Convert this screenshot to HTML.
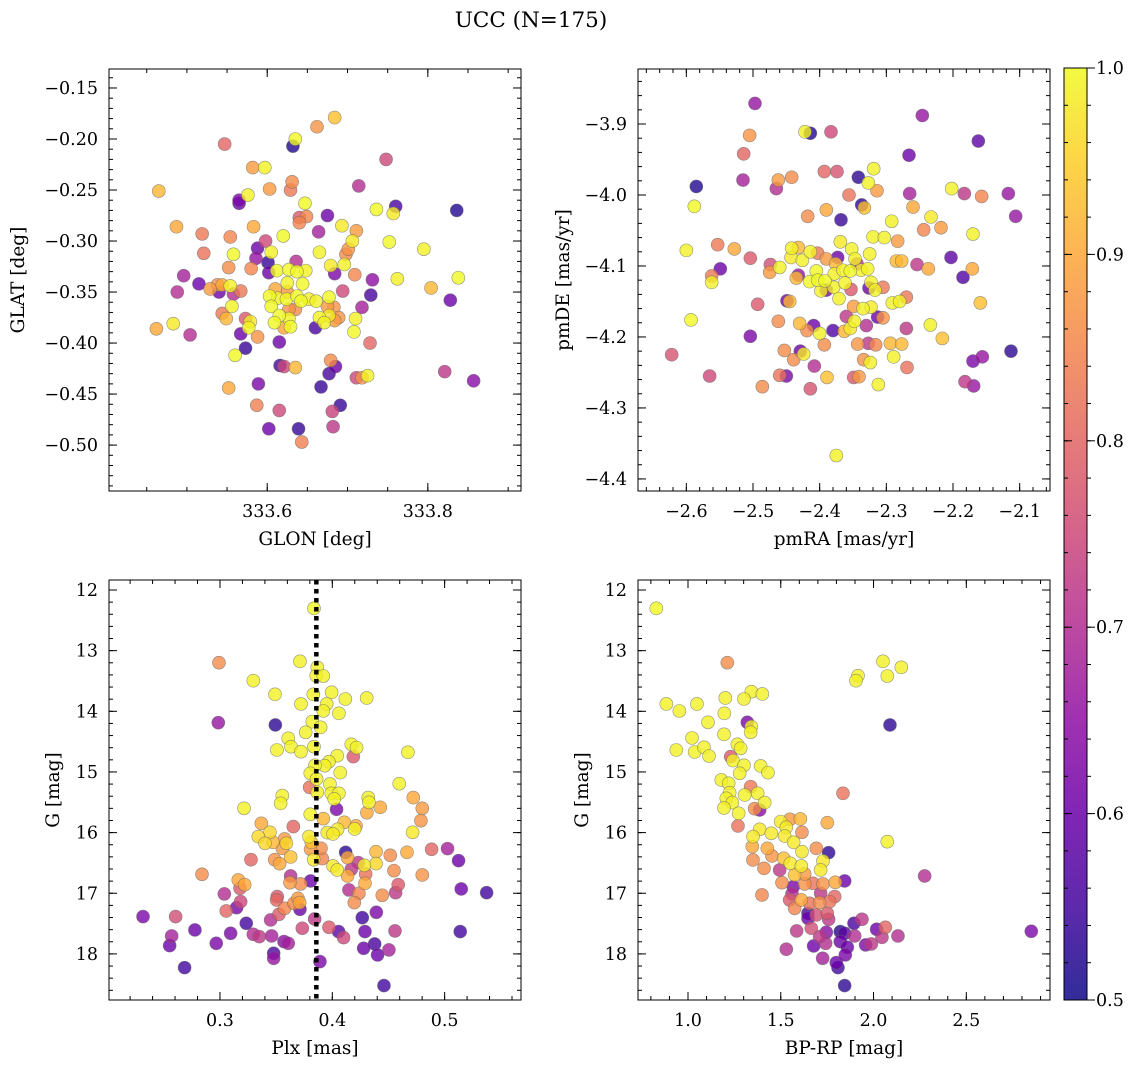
<!DOCTYPE html>
<html><head><meta charset="utf-8">
<style>
html,body{margin:0;padding:0;background:#fff;}
svg{display:block;font-family:"DejaVu Serif","Liberation Serif",serif;}
</style></head>
<body>
<svg id="fig" width="1136" height="1068" viewBox="0 0 1136 1068" xmlns="http://www.w3.org/2000/svg">
<defs>
<linearGradient id="plasma" x1="0" y1="1" x2="0" y2="0">
<stop offset="0" stop-color="#0d0887"/><stop offset="0.1" stop-color="#41049d"/><stop offset="0.2" stop-color="#6a00a8"/><stop offset="0.3" stop-color="#8f0da4"/><stop offset="0.4" stop-color="#b12a90"/><stop offset="0.5" stop-color="#cc4778"/><stop offset="0.6" stop-color="#e16462"/><stop offset="0.7" stop-color="#f2844b"/><stop offset="0.8" stop-color="#fca636"/><stop offset="0.9" stop-color="#fcce25"/><stop offset="1" stop-color="#f0f921"/>
</linearGradient>
</defs>
<text x="531" y="27" font-size="21.5" text-anchor="middle">UCC (N=175)</text>
</svg>
<script>
// ---- Panel 1: GLON / GLAT ----
const p1x=[333.684,333.662,333.635,333.632,333.547,333.748,333.582,333.597,333.631,333.629,333.603,333.465,333.714,333.565,333.565,333.576,333.647,333.736,333.760,333.757,333.836,333.640,333.649,333.640,333.675,333.487,333.583,333.693,333.711,333.664,333.519,333.554,333.620,333.598,333.706,333.752,333.795,333.521,333.558,333.588,333.605,333.586,333.601,333.665,333.701,333.698,333.636,333.696,333.679,333.552,333.580,333.602,333.612,333.627,333.637,333.648,333.684,333.709,333.731,333.762,333.838,333.496,333.515,333.488,333.540,333.529,333.538,333.544,333.554,333.558,333.567,333.625,333.644,333.610,333.625,333.694,333.729,333.804,333.828,333.603,333.613,333.624,333.637,333.642,333.652,333.661,333.677,333.605,333.627,333.635,333.675,333.683,333.718,333.556,333.544,333.549,333.615,333.609,333.627,333.621,333.629,333.665,333.671,333.677,333.689,333.684,333.660,333.710,333.573,333.579,333.577,333.567,333.588,333.462,333.483,333.504,333.708,333.728,333.615,333.573,333.560,333.616,333.621,333.635,333.679,333.685,333.677,333.711,333.718,333.725,333.589,333.667,333.552,333.821,333.857,333.587,333.615,333.691,333.681,333.602,333.639,333.682,333.643];
const p1y=[-0.179,-0.188,-0.200,-0.207,-0.205,-0.220,-0.228,-0.228,-0.242,-0.250,-0.249,-0.251,-0.246,-0.260,-0.263,-0.255,-0.263,-0.269,-0.266,-0.273,-0.270,-0.277,-0.276,-0.282,-0.275,-0.286,-0.286,-0.285,-0.290,-0.291,-0.293,-0.296,-0.295,-0.300,-0.300,-0.301,-0.308,-0.312,-0.313,-0.307,-0.311,-0.317,-0.321,-0.311,-0.308,-0.313,-0.320,-0.323,-0.324,-0.326,-0.327,-0.331,-0.329,-0.328,-0.330,-0.329,-0.332,-0.333,-0.338,-0.337,-0.336,-0.334,-0.342,-0.350,-0.350,-0.347,-0.343,-0.343,-0.344,-0.352,-0.349,-0.341,-0.342,-0.347,-0.350,-0.349,-0.353,-0.346,-0.358,-0.354,-0.356,-0.357,-0.354,-0.359,-0.357,-0.359,-0.355,-0.364,-0.367,-0.367,-0.364,-0.365,-0.365,-0.364,-0.371,-0.376,-0.373,-0.380,-0.376,-0.385,-0.384,-0.375,-0.380,-0.373,-0.375,-0.378,-0.385,-0.376,-0.376,-0.379,-0.385,-0.391,-0.394,-0.386,-0.381,-0.392,-0.389,-0.400,-0.399,-0.405,-0.412,-0.422,-0.423,-0.424,-0.417,-0.423,-0.430,-0.434,-0.434,-0.432,-0.440,-0.443,-0.444,-0.428,-0.437,-0.461,-0.466,-0.461,-0.467,-0.484,-0.484,-0.482,-0.497];
const p1c=[0.93,0.87,1.0,0.52,0.8,0.75,0.88,0.99,0.86,0.83,0.88,0.92,0.7,0.62,0.6,0.99,1.0,1.0,0.56,0.98,0.52,0.78,0.85,0.85,0.6,0.9,0.9,0.98,0.88,0.68,0.83,0.85,1.0,0.75,0.98,1.0,0.99,0.82,1.0,0.6,0.99,0.66,0.54,0.99,0.87,0.86,0.7,0.99,0.98,0.86,0.85,0.6,1.0,1.0,1.0,0.99,0.62,0.85,0.65,0.99,1.0,0.68,0.6,0.7,0.6,0.88,0.87,0.9,0.99,0.7,0.83,0.99,1.0,0.9,0.88,0.75,0.56,0.92,0.6,1.0,0.99,1.0,1.0,1.0,0.99,0.99,1.0,1.0,0.87,0.86,0.88,0.87,0.68,0.99,0.83,0.92,1.0,1.0,0.99,0.9,1.0,0.99,0.99,0.98,0.87,0.88,0.56,0.99,0.78,0.98,0.99,0.6,0.87,0.9,0.98,0.7,1.0,0.8,0.6,0.54,1.0,0.55,0.75,0.92,0.86,0.6,0.56,0.75,0.87,0.99,0.62,0.54,0.9,0.72,0.64,0.84,0.75,0.54,0.74,0.6,0.54,0.72,0.84];
const p1xTicks=[333.6,333.8];
const p1xTickLabels=["333.6","333.8"];
const p1yTicks=[-0.15,-0.20,-0.25,-0.30,-0.35,-0.40,-0.45,-0.50];
const p1yTickLabels=["\u22120.15","\u22120.20","\u22120.25","\u22120.30","\u22120.35","\u22120.40","\u22120.45","\u22120.50"];

// ---- Panel 2: pmRA / pmDE ----
const p2x=[-2.497,-2.246,-2.422,-2.414,-2.383,-2.505,-2.162,-2.514,-2.266,-2.393,-2.374,-2.319,-2.342,-2.515,-2.585,-2.462,-2.465,-2.442,-2.327,-2.314,-2.356,-2.265,-2.202,-2.183,-2.157,-2.117,-2.106,-2.588,-2.337,-2.333,-2.260,-2.390,-2.418,-2.368,-2.292,-2.233,-2.244,-2.218,-2.170,-2.320,-2.303,-2.283,-2.369,-2.352,-2.325,-2.553,-2.528,-2.600,-2.504,-2.474,-2.475,-2.460,-2.442,-2.432,-2.443,-2.426,-2.414,-2.403,-2.390,-2.373,-2.376,-2.347,-2.344,-2.285,-2.277,-2.254,-2.237,-2.203,-2.171,-2.185,-2.549,-2.562,-2.562,-2.432,-2.435,-2.405,-2.415,-2.403,-2.392,-2.378,-2.365,-2.354,-2.338,-2.328,-2.379,-2.362,-2.323,-2.398,-2.390,-2.353,-2.326,-2.317,-2.305,-2.371,-2.449,-2.445,-2.493,-2.349,-2.335,-2.323,-2.291,-2.280,-2.270,-2.159,-2.313,-2.305,-2.360,-2.593,-2.462,-2.430,-2.409,-2.419,-2.400,-2.380,-2.363,-2.354,-2.348,-2.330,-2.270,-2.234,-2.216,-2.504,-2.393,-2.453,-2.429,-2.424,-2.439,-2.343,-2.327,-2.316,-2.294,-2.277,-2.289,-2.334,-2.324,-2.113,-2.170,-2.156,-2.622,-2.565,-2.460,-2.450,-2.486,-2.408,-2.414,-2.389,-2.349,-2.341,-2.312,-2.269,-2.182,-2.169,-2.375];
const p2y=[-3.871,-3.888,-3.911,-3.913,-3.911,-3.916,-3.924,-3.942,-3.944,-3.967,-3.967,-3.963,-3.975,-3.979,-3.988,-3.979,-3.991,-3.975,-3.983,-3.994,-4.000,-3.998,-3.991,-3.998,-4.002,-3.998,-4.030,-4.016,-4.014,-4.018,-4.017,-4.021,-4.030,-4.035,-4.037,-4.031,-4.049,-4.046,-4.055,-4.059,-4.060,-4.065,-4.066,-4.076,-4.083,-4.070,-4.076,-4.078,-4.089,-4.098,-4.109,-4.102,-4.075,-4.074,-4.088,-4.092,-4.080,-4.082,-4.090,-4.088,-4.097,-4.090,-4.097,-4.093,-4.093,-4.098,-4.104,-4.088,-4.104,-4.116,-4.104,-4.114,-4.123,-4.113,-4.117,-4.107,-4.122,-4.120,-4.121,-4.111,-4.106,-4.107,-4.106,-4.104,-4.130,-4.124,-4.123,-4.135,-4.134,-4.133,-4.131,-4.134,-4.130,-4.146,-4.149,-4.150,-4.154,-4.157,-4.160,-4.158,-4.152,-4.150,-4.144,-4.152,-4.172,-4.173,-4.171,-4.176,-4.178,-4.181,-4.184,-4.191,-4.195,-4.191,-4.192,-4.188,-4.178,-4.184,-4.188,-4.183,-4.202,-4.199,-4.211,-4.219,-4.220,-4.224,-4.232,-4.210,-4.209,-4.211,-4.209,-4.210,-4.228,-4.232,-4.236,-4.220,-4.234,-4.228,-4.225,-4.255,-4.254,-4.255,-4.270,-4.241,-4.273,-4.257,-4.257,-4.256,-4.267,-4.243,-4.263,-4.269,-4.367];
const p2c=[0.66,0.66,0.99,0.52,0.75,0.87,0.58,0.8,0.6,0.8,0.77,0.99,0.53,0.68,0.52,0.88,0.7,0.86,0.99,0.88,0.82,0.68,0.99,0.72,0.85,0.66,0.66,1.0,0.53,0.93,0.9,0.9,0.86,0.54,0.99,0.98,0.85,0.88,0.99,0.99,0.99,0.88,0.98,0.99,0.99,0.83,0.9,0.99,0.78,0.76,0.88,0.99,0.99,0.92,0.98,0.99,0.99,0.83,0.88,0.6,0.92,0.99,0.7,0.92,0.92,0.72,0.9,0.58,0.9,0.57,0.6,0.83,0.99,0.66,0.92,1.0,1.0,1.0,1.0,0.99,0.99,1.0,0.99,0.99,0.99,0.99,0.99,0.99,0.62,0.78,0.6,0.99,0.83,0.99,0.6,0.92,0.78,0.88,0.99,0.98,0.99,0.99,0.83,0.93,0.6,0.87,0.72,1.0,0.86,0.92,0.6,0.86,0.99,0.57,0.92,0.98,0.99,0.7,0.72,0.99,0.93,0.62,0.86,0.86,0.6,0.98,0.86,0.87,0.72,0.85,0.92,0.92,0.99,0.87,0.99,0.53,0.62,0.66,0.77,0.75,0.82,0.62,0.86,0.7,0.77,0.93,0.78,0.88,0.99,0.82,0.72,0.66,0.99];
const p2xTicks=[-2.6,-2.5,-2.4,-2.3,-2.2,-2.1];
const p2xTickLabels=["\u22122.6","\u22122.5","\u22122.4","\u22122.3","\u22122.2","\u22122.1"];
const p2yTicks=[-3.9,-4.0,-4.1,-4.2,-4.3,-4.4];
const p2yTickLabels=["\u22123.9","\u22124.0","\u22124.1","\u22124.2","\u22124.3","\u22124.4"];

// ---- Panel 3: Plx / G ----
const p3x=[0.3837,0.2991,0.3712,0.3866,0.3857,0.392,0.3297,0.349,0.3831,0.3994,0.4116,0.4306,0.3721,0.395,0.392,0.4059,0.2985,0.3493,0.3822,0.3896,0.3763,0.3608,0.3632,0.3507,0.3721,0.3837,0.4169,0.4216,0.4187,0.4673,0.4044,0.397,0.3932,0.3846,0.4071,0.3804,0.386,0.3979,0.4596,0.3798,0.3866,0.3991,0.4059,0.4017,0.432,0.4326,0.4721,0.3555,0.354,0.3214,0.4038,0.4427,0.4308,0.4801,0.4789,0.3804,0.392,0.4107,0.4211,0.4199,0.4047,0.3955,0.4006,0.3368,0.3653,0.3445,0.3341,0.3401,0.3472,0.3576,0.3591,0.3555,0.3792,0.3813,0.3807,0.3899,0.4715,0.4884,0.5026,0.5124,0.4119,0.4136,0.4389,0.4516,0.4665,0.4389,0.4285,0.4231,0.4169,0.4006,0.4044,0.4136,0.4297,0.4291,0.4549,0.4801,0.3911,0.3834,0.3629,0.3487,0.3531,0.3276,0.284,0.3163,0.322,0.3178,0.3629,0.3623,0.3718,0.3807,0.4148,0.4237,0.4587,0.4564,0.4445,0.4196,0.5148,0.5374,0.3039,0.3184,0.3148,0.3056,0.351,0.3504,0.3694,0.3709,0.3659,0.3576,0.3712,0.3525,0.3451,0.3843,0.2315,0.2605,0.257,0.2552,0.2777,0.2685,0.2967,0.3095,0.3234,0.3297,0.335,0.346,0.357,0.3608,0.3733,0.3478,0.3478,0.389,0.397,0.4056,0.41,0.4267,0.4392,0.4291,0.4558,0.5139,0.4279,0.4377,0.4403,0.4504,0.446];
const p3y=[12.302,13.198,13.176,13.275,13.412,13.418,13.495,13.720,13.720,13.687,13.797,13.780,13.879,13.879,13.995,14.033,14.187,14.225,14.170,14.264,14.346,14.445,14.583,14.638,14.665,14.583,14.544,14.599,14.748,14.676,14.731,14.830,14.896,14.890,15.011,15.022,15.116,15.198,15.193,15.253,15.335,15.352,15.352,15.445,15.423,15.500,15.423,15.390,15.517,15.599,15.616,15.583,15.671,15.599,15.803,15.698,15.770,15.830,15.890,15.940,15.945,16.000,16.022,15.847,15.901,15.995,16.066,16.176,16.160,16.105,16.176,16.259,16.066,16.160,16.275,16.259,15.995,16.275,16.264,16.462,16.325,16.413,16.314,16.374,16.325,16.511,16.539,16.495,16.605,16.550,16.616,16.715,16.682,16.836,16.627,16.698,16.429,16.446,16.402,16.446,16.512,16.446,16.687,16.781,16.858,16.918,16.715,16.825,16.847,16.797,16.945,17.000,16.858,16.990,17.033,17.154,16.929,16.990,17.011,17.138,17.237,17.292,17.055,17.110,17.083,17.154,17.165,17.248,17.264,17.347,17.440,17.424,17.385,17.385,17.704,17.863,17.605,18.226,17.825,17.660,17.495,17.676,17.715,17.704,17.797,17.825,17.577,17.990,18.072,18.127,17.561,17.632,17.731,17.402,17.314,17.632,17.621,17.632,17.907,17.836,18.017,17.934,18.522];
const p3c=[1.0,0.86,0.99,0.99,0.99,0.99,0.99,0.99,0.99,0.99,0.99,0.99,0.99,0.99,0.99,0.99,0.66,0.53,0.99,0.99,0.99,0.99,0.99,0.99,0.99,0.99,0.99,0.99,0.78,0.99,0.99,0.99,0.99,0.99,0.99,0.99,0.99,0.99,0.99,0.82,0.99,0.99,0.99,0.99,0.99,0.99,0.9,0.99,0.99,0.99,0.62,0.9,0.9,0.88,0.87,0.99,0.92,0.92,0.9,0.99,0.98,0.98,0.98,0.9,0.8,0.96,0.96,0.96,0.92,0.88,0.96,0.88,0.98,0.93,0.88,0.86,0.98,0.8,0.68,0.6,0.53,0.9,0.92,0.86,0.9,0.96,0.98,0.72,0.72,0.98,0.98,0.9,0.82,0.9,0.86,0.87,0.85,0.98,0.93,0.87,0.9,0.8,0.86,0.9,0.9,0.78,0.7,0.88,0.86,0.6,0.7,0.85,0.78,0.72,0.86,0.86,0.6,0.55,0.7,0.75,0.62,0.8,0.78,0.8,0.88,0.9,0.86,0.85,0.6,0.78,0.7,0.72,0.62,0.76,0.68,0.6,0.6,0.55,0.62,0.62,0.55,0.7,0.72,0.68,0.64,0.68,0.75,0.56,0.66,0.62,0.78,0.58,0.75,0.55,0.62,0.6,0.72,0.55,0.6,0.56,0.6,0.68,0.55];
const plxRef=0.3858;
const p3xTicks=[0.3,0.4,0.5];
const p3xTickLabels=["0.3","0.4","0.5"];
const gTicks=[12,13,14,15,16,17,18];
const gTickLabels=["12","13","14","15","16","17","18"];

// ---- Panel 4: BP-RP / G ----
const p4x=[0.8294,1.212,2.0508,2.1496,2.0742,1.9161,1.9053,1.3413,1.4006,1.3018,1.2012,0.8832,0.9533,1.0485,1.1958,1.3197,1.3413,1.3377,1.1078,2.0886,1.0216,1.194,0.9371,1.0359,1.0862,1.1132,1.2659,1.2838,1.2299,1.2425,1.3018,1.2784,1.3916,1.4311,1.1796,1.2192,1.3377,1.3754,1.3054,1.2245,1.2066,1.2389,1.194,1.273,1.4131,1.3593,1.3862,1.8353,1.2694,1.4994,1.5497,1.6054,1.7509,1.6143,1.5299,1.3862,1.4491,1.3503,1.5209,1.5694,1.3467,1.4275,1.4527,1.6143,1.6916,1.758,1.7275,1.7149,1.3503,1.4096,1.494,1.5155,1.5515,1.6107,1.5748,1.6287,1.8443,1.794,1.7275,1.6736,1.6287,1.5066,1.5676,2.0742,2.2754,1.3988,1.5604,1.5478,1.6107,1.5748,1.6556,1.7095,1.7634,1.7904,1.7149,1.6467,1.6467,1.6916,1.7509,1.758,1.8946,1.9377,1.5856,1.6646,1.7095,1.7454,1.8209,1.8443,1.8982,2.0167,2.0634,2.0454,2.1317,1.9574,1.988,1.6772,1.7419,1.8209,1.8586,1.8479,1.5299,1.7257,1.7993,1.8083,1.8443,2.8502];
const p4y=[12.302,13.198,13.176,13.275,13.418,13.412,13.495,13.676,13.714,13.797,13.780,13.879,13.995,13.879,14.033,14.181,14.253,14.346,14.181,14.225,14.440,14.380,14.638,14.671,14.594,14.737,14.544,14.610,14.748,14.813,14.890,15.022,14.901,15.011,15.132,15.187,15.242,15.352,15.379,15.341,15.434,15.505,15.594,15.682,15.505,15.605,15.627,15.352,15.890,15.819,15.781,15.775,15.836,15.995,15.913,15.945,16.011,16.066,16.055,16.160,16.231,16.259,16.385,16.314,16.259,16.330,16.468,16.616,16.451,16.589,16.616,16.424,16.506,16.550,16.698,16.682,16.797,16.819,16.847,16.836,16.847,16.825,16.891,16.149,16.715,17.028,17.011,17.110,17.110,17.248,17.165,17.154,17.138,17.055,17.000,17.330,17.413,17.358,17.330,17.429,17.495,17.429,17.621,17.577,17.715,17.643,17.632,17.660,17.704,17.594,17.561,17.726,17.704,17.852,17.836,17.869,17.825,17.797,17.890,18.017,17.923,18.072,18.143,18.226,18.522,17.627];
const p4c=[1.0,0.86,0.99,0.99,0.99,0.99,0.99,0.99,0.99,0.99,0.99,0.99,0.99,0.99,0.99,0.62,0.99,0.99,0.99,0.53,0.99,0.99,0.99,0.99,0.99,0.99,0.99,0.99,0.78,0.99,0.99,0.99,0.99,0.99,0.99,0.99,0.83,0.99,0.99,0.99,0.99,0.99,0.99,0.99,0.99,0.86,0.64,0.82,0.82,0.98,0.88,0.92,0.9,0.86,0.98,0.98,0.98,0.98,0.98,0.98,0.9,0.9,0.87,0.98,0.86,0.53,0.98,0.98,0.86,0.86,0.72,0.93,0.98,0.98,0.93,0.88,0.6,0.9,0.87,0.82,0.87,0.86,0.62,0.99,0.7,0.85,0.7,0.78,0.9,0.85,0.82,0.86,0.82,0.8,0.72,0.56,0.6,0.76,0.78,0.72,0.56,0.72,0.72,0.76,0.72,0.64,0.52,0.58,0.7,0.6,0.8,0.72,0.7,0.62,0.72,0.6,0.7,0.6,0.6,0.62,0.7,0.68,0.6,0.55,0.53,0.62];
const p4xTicks=[1.0,1.5,2.0,2.5];
const p4xTickLabels=["1.0","1.5","2.0","2.5"];

// ---- Colorbar ----
const cbTicks=[0.5,0.6,0.7,0.8,0.9,1.0];
const cbTickLabels=["0.5","0.6","0.7","0.8","0.9","1.0"];

const NS="http://www.w3.org/2000/svg";
const svg=document.getElementById('fig');
function mk(tag,attrs,parent){const e=document.createElementNS(NS,tag);for(const k in attrs)e.setAttribute(k,attrs[k]);(parent||svg).appendChild(e);return e;}

const stops=[[13,8,135],[65,4,157],[106,0,168],[143,13,164],[177,42,144],[204,71,120],[225,100,98],[242,132,75],[252,166,54],[252,206,37],[240,249,33]];
function plasma(v){let t=(v-0.5)/0.5;t=Math.max(0,Math.min(1,t));const f=t*10,i=Math.min(9,Math.floor(f)),r=f-i;const a=stops[i],b=stops[i+1];return 'rgb('+a.map((x,k)=>Math.round(x+(b[k]-x)*r)).join(',')+')';}

const FS=17.5, TFS=18.5;
function panel(name,box,xd,yd,xTicks,xLabels,xMinor,yTicks,yLabels,yMinor,xTitle,yTitle,xs,ys,cs,yTitleX){
  const [L,T,R,B]=box;
  const g=mk('g',{});
  
  
  const sx=v=>L+(v-xd[0])/(xd[1]-xd[0])*(R-L);
  const sy=v=>T+(v-yd[1])/(yd[0]-yd[1])*(B-T);
  const clip=mk('clipPath',{id:name+'-clip'},g);
  mk('rect',{x:L,y:T,width:R-L,height:B-T},clip);
  const pts=mk('g',{'clip-path':'url(#'+name+'-clip)'},g);
  
  
  const n=Math.min(xs.length,ys.length,cs.length);
  const idx=[];for(let i=0;i<n;i++)idx.push(i);
  idx.sort((a,b)=>cs[a]-cs[b]);
  for(const i of idx){
    const c=mk('circle',{cx:sx(xs[i]),cy:sy(ys[i]),r:6.5,fill:plasma(cs[i]),'fill-opacity':0.8,stroke:'#666','stroke-opacity':0.7,'stroke-width':0.6},pts);
    
    
  }
  const frame=mk('rect',{x:L,y:T,width:R-L,height:B-T,fill:'none',stroke:'#000','stroke-width':1},g);
  
  
  const tk=mk('g',{stroke:'#000','stroke-width':1},g);
  const x0=Math.ceil(xd[0]/xMinor-1e-6),x1=Math.floor(xd[1]/xMinor+1e-6);
  for(let k=x0;k<=x1;k++){const X=sx(k*xMinor);mk('line',{x1:X,y1:B,x2:X,y2:B-4},tk);mk('line',{x1:X,y1:T,x2:X,y2:T+4},tk);}
  const y0=Math.ceil(yd[0]/yMinor-1e-6),y1=Math.floor(yd[1]/yMinor+1e-6);
  for(let k=y0;k<=y1;k++){const Y=sy(k*yMinor);mk('line',{x1:L,y1:Y,x2:L+4,y2:Y},tk);mk('line',{x1:R,y1:Y,x2:R-4,y2:Y},tk);}
  xTicks.forEach((v,i)=>{const X=sx(v);mk('line',{x1:X,y1:B,x2:X,y2:B-8},tk);mk('line',{x1:X,y1:T,x2:X,y2:T+8},tk);
    const t=mk('text',{x:X,y:B+26,'font-size':FS,'text-anchor':'middle'},g);t.textContent=xLabels[i];
    });
  yTicks.forEach((v,i)=>{const Y=sy(v);mk('line',{x1:L,y1:Y,x2:L+8,y2:Y},tk);mk('line',{x1:R,y1:Y,x2:R-8,y2:Y},tk);
    const t=mk('text',{x:L-11,y:Y+6,'font-size':FS,'text-anchor':'end'},g);t.textContent=yLabels[i];
    });
  const xt=mk('text',{x:(L+R)/2,y:B+54,'font-size':TFS,'text-anchor':'middle'},g);xt.textContent=xTitle;
  
  const yt=mk('text',{x:yTitleX,y:(T+B)/2,'font-size':TFS,'text-anchor':'middle',transform:'rotate(-90 '+yTitleX+' '+((T+B)/2)+')'},g);yt.textContent=yTitle;
  
  return {sx,sy,g};
}

panel('panel-glon-glat',[109,69,521,491],[333.403,333.916],[-0.545,-0.1314],p1xTicks,p1xTickLabels,0.05,p1yTicks,p1yTickLabels,0.01,'GLON [deg]','GLAT [deg]',p1x,p1y,p1c,24);
panel('panel-pm',[638,69,1050,491],[-2.6725,-2.0545],[-4.417,-3.8225],p2xTicks,p2xTickLabels,0.02,p2yTicks,p2yTickLabels,0.02,'pmRA [mas/yr]','pmDE [mas/yr]',p2x,p2y,p2c,569);
function panelG(name,box,xd,xTicks,xLabels,xMinor,xTitle,xs,ys,cs,ytx){
  return panel(name,box,xd,[-18.76,-11.835],xTicks,xLabels,xMinor,gTicks.map(v=>-v),gTickLabels,0.2,xTitle,'G [mag]',xs,ys.map(v=>-v),cs,ytx);
}
const P3=panelG('panel-plx-g',[109,580,521,1000],[0.2012,0.568],p3xTicks,p3xTickLabels,0.02,'Plx [mas]',p3x,p3y,p3c,59);
const ref=mk('line',{x1:P3.sx(plxRef),y1:580,x2:P3.sx(plxRef),y2:1000,stroke:'#000','stroke-width':4.5,'stroke-dasharray':'4.5 4.5'},P3.g);


panelG('panel-cmd',[638,580,1050,1000],[0.7306,2.951],p4xTicks,p4xTickLabels,0.1,'BP-RP [mag]',p4x,p4y,p4c,588);

const cb=mk('g',{});


const cL=1064,cR=1087,cT=68,cB=1000;
mk('rect',{x:cL,y:cT,width:cR-cL,height:cB-cT,fill:'url(#plasma)','fill-opacity':0.85},cb);
mk('rect',{x:cL,y:cT,width:cR-cL,height:cB-cT,fill:'none',stroke:'#000','stroke-width':1},cb);
const cy=v=>cB-(v-0.5)/0.5*(cB-cT);
for(let k=25;k<=50;k++){const Y=cy(k*0.02);mk('line',{x1:cR,y1:Y,x2:cR+4,y2:Y,stroke:'#000'},cb);mk('line',{x1:cL,y1:Y,x2:cL+4,y2:Y,stroke:'#000'},cb);}
cbTicks.forEach((v,i)=>{const Y=cy(v);mk('line',{x1:cR,y1:Y,x2:cR+8,y2:Y,stroke:'#000'},cb);mk('line',{x1:cL,y1:Y,x2:cL+8,y2:Y,stroke:'#000'},cb);
  const t=mk('text',{x:cR+9,y:Y+6,'font-size':FS},cb);t.textContent=cbTickLabels[i];
  });
</script>
</body></html>
